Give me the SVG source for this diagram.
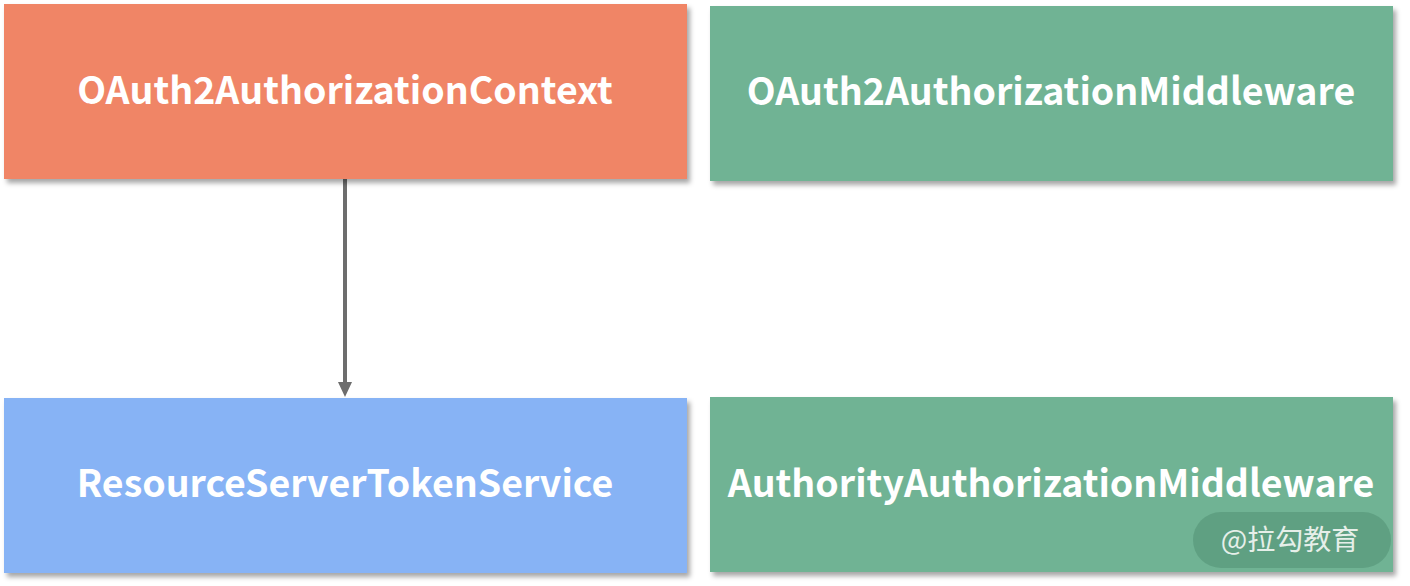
<svg xmlns="http://www.w3.org/2000/svg" width="1410" height="586" viewBox="0 0 1410 586">
<style>
.lbl{font-family:"Noto Sans CJK SC","Source Sans Pro","Open Sans",sans-serif;font-weight:700;font-size:37.5px;fill:#ffffff;text-anchor:middle}
.wm{font-family:"Noto Sans CJK SC",sans-serif;font-size:28px;fill:#e6efe9;text-anchor:middle}
</style>
<defs>
<filter id="sh" x="-5%" y="-10%" width="115%" height="130%">
<feDropShadow dx="3" dy="4" stdDeviation="2.5" flood-color="#000" flood-opacity="0.35"/>
</filter>
</defs>
<rect width="1410" height="586" fill="#ffffff"/>
<g id="connectors">
<line x1="345" y1="179" x2="345" y2="384" stroke="#6d6d6d" stroke-width="4"/>
<path d="M338,382 L352,382 L345,397 Z" fill="#6d6d6d"/>
</g>
<g id="ctx">
<rect x="4" y="4" width="683" height="175" fill="#f08566" filter="url(#sh)"/>
<text class="lbl" x="345" y="104">OAuth2AuthorizationContext</text>
</g>
<g id="mw">
<rect x="710" y="6" width="683" height="175" fill="#6fb394" filter="url(#sh)"/>
<text class="lbl" x="1051" y="105">OAuth2AuthorizationMiddleware</text>
</g>
<g id="rsts">
<rect x="4" y="398" width="683" height="175" fill="#87b3f5" filter="url(#sh)"/>
<text class="lbl" x="345" y="497">ResourceServerTokenService</text>
</g>
<g id="aam">
<rect x="710" y="397" width="683" height="175" fill="#6fb394" filter="url(#sh)"/>
<text class="lbl" x="1051" y="497">AuthorityAuthorizationMiddleware</text>
</g>
<g id="watermark">
<rect x="1193" y="512" width="198" height="56" rx="28" fill="#5a9a7c" opacity="0.75"/>
<text class="wm" x="1290" y="550">@拉勾教育</text>
</g>
</svg>
